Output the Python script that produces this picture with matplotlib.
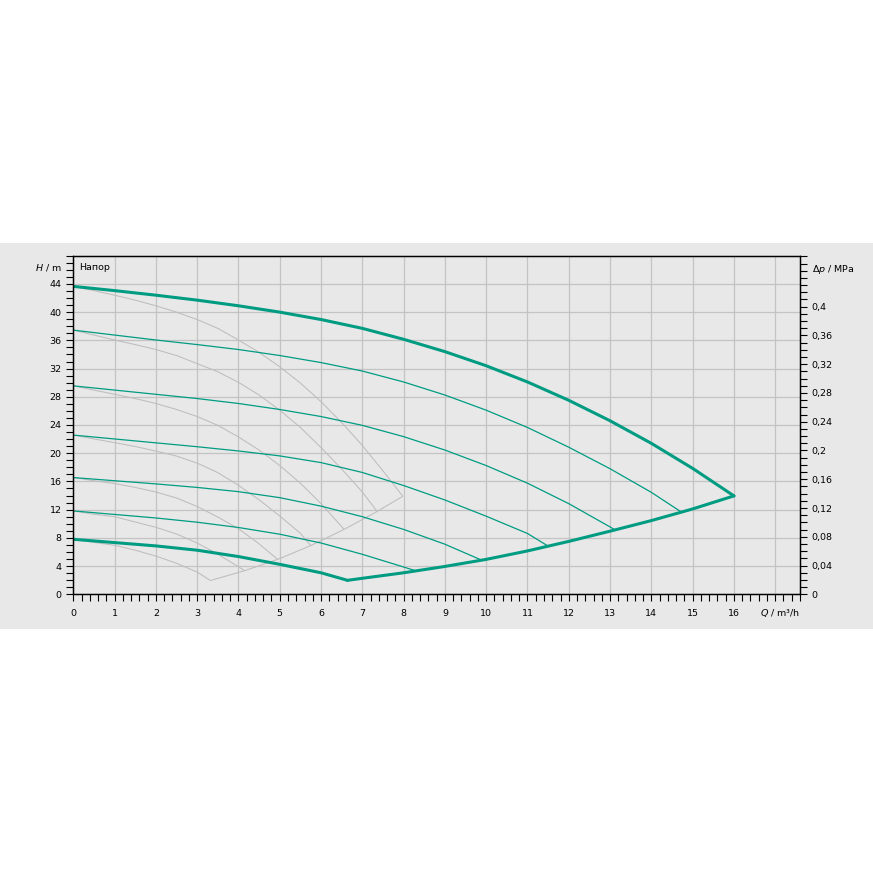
import matplotlib
matplotlib.use("Agg")
import matplotlib.pyplot as plt
from matplotlib.ticker import FixedLocator, MultipleLocator, FuncFormatter
from matplotlib.patches import Rectangle

# ---------------- data ----------------
# green curves (Q in m3/h, H in m)
max_q = [0, 1, 2, 3, 4, 5, 6, 7, 8, 9, 10, 11, 12, 13, 14, 15, 16]
max_h = [43.65, 43.05, 42.4, 41.7, 40.9, 40.0, 38.95, 37.7, 36.15, 34.4, 32.4,
         30.1, 27.5, 24.6, 21.4, 17.85, 13.95]
c2_q = [0, 1, 2, 3, 4, 5, 6, 7, 8, 9, 10, 11, 12, 13, 14, 14.73]
c2_h = [37.45, 36.75, 36.05, 35.4, 34.7, 33.85, 32.85, 31.65, 30.1, 28.25, 26.1,
        23.65, 20.85, 17.8, 14.45, 11.65]
c3_q = [0, 1, 2, 3, 4, 5, 6, 7, 8, 9, 10, 11, 12, 13, 13.12]
c3_h = [29.55, 28.95, 28.35, 27.75, 27.05, 26.2, 25.2, 23.95, 22.35, 20.45,
        18.25, 15.75, 12.85, 9.55, 9.13]
c4_q = [0, 1, 2, 3, 4, 5, 6, 7, 8, 9, 10, 11, 11.5]
c4_h = [22.57, 22.02, 21.47, 20.92, 20.32, 19.62, 18.67, 17.27, 15.42, 13.37,
        11.07, 8.62, 6.83]
c5_q = [0, 1, 2, 3, 4, 5, 6, 7, 8, 9, 9.89]
c5_h = [16.55, 16.1, 15.65, 15.15, 14.55, 13.7, 12.5, 11.0, 9.2, 7.1, 4.84]
c6_q = [0, 1, 2, 3, 4, 5, 6, 7, 8, 8.3]
c6_h = [11.82, 11.32, 10.82, 10.22, 9.47, 8.52, 7.27, 5.67, 3.87, 3.32]
min_q = [0, 1, 2, 3, 4, 5, 6, 6.64]
min_h = [7.8, 7.33, 6.86, 6.25, 5.35, 4.25, 3.05, 1.98]
bnd_q = [6.64, 7, 8, 9, 10, 11, 12, 13, 14, 15, 16]
bnd_h = [1.98, 2.27, 3.05, 3.95, 4.95, 6.15, 7.5, 8.95, 10.45, 12.1, 13.95]

# grey curves
g1_q = [0, 0.5, 1, 1.5, 2, 2.5, 3, 3.5, 4, 4.5, 5, 5.5, 6, 6.5, 7, 7.5, 7.98]
g1_h = [43.65, 43.05, 42.4, 41.7, 40.9, 40.0, 38.95, 37.7, 36.05, 34.3, 32.25,
        29.95, 27.3, 24.35, 21.1, 17.5, 13.9]
g2_q = [0, 0.5, 1, 1.5, 2, 2.5, 3, 3.5, 4, 4.5, 5, 5.5, 6, 6.5, 7, 7.36]
g2_h = [37.45, 36.75, 36.05, 35.4, 34.7, 33.85, 32.7, 31.55, 30.05, 28.25, 26.1,
        23.65, 20.8, 17.75, 14.5, 11.75]
g3_q = [0, 0.5, 1, 1.5, 2, 2.5, 3, 3.5, 4, 4.5, 5, 5.5, 6, 6.56]
g3_h = [29.55, 28.95, 28.35, 27.75, 27.05, 26.2, 25.2, 23.95, 22.3, 20.45,
        18.25, 15.75, 12.85, 9.2]
g4_q = [0, 0.5, 1, 1.5, 2, 2.5, 3, 3.5, 4, 4.5, 5, 5.5, 5.75]
g4_h = [22.57, 22.02, 21.5, 20.95, 20.3, 19.6, 18.6, 17.25, 15.45, 13.4, 11.1,
        8.65, 6.9]
g5_q = [0, 0.5, 1, 1.5, 2, 2.5, 3, 3.5, 4, 4.5, 4.95]
g5_h = [16.55, 16.1, 15.7, 15.15, 14.5, 13.65, 12.45, 10.95, 9.3, 7.15, 4.95]
g6_q = [0, 0.5, 1, 1.5, 2, 2.5, 3, 3.5, 4, 4.15]
g6_h = [11.82, 11.35, 11.0, 10.25, 9.5, 8.55, 7.27, 5.7, 3.9, 3.35]
g7_q = [0, 0.5, 1, 1.5, 2, 2.5, 3, 3.32]
g7_h = [7.8, 7.35, 6.95, 6.25, 5.42, 4.4, 3.15, 1.95]
gb_q = [3.32, 4.15, 4.95, 5.75, 6.56, 7.36, 7.98]
gb_h = [1.95, 3.35, 4.95, 6.9, 9.2, 11.75, 13.9]

x_ticks = list(range(0, 17))
h_ticks = list(range(0, 45, 4))
p_ticks = [0, 0.04, 0.08, 0.12, 0.16, 0.2, 0.24, 0.28, 0.32, 0.36, 0.4]
M_PER_MPA = 0.00981

# ---------------- styling ----------------
W = H = 873
GREEN = "#009c82"
GREY_LINE = "#bdbdbd"
BG = "#e8e8e8"
GRID = "#c3c3c3"
FS = 6.8

plt.rcParams["font.family"] = ["DejaVu Sans"]
plt.rcParams["mathtext.fontset"] = "dejavusans"

fig = plt.figure(figsize=(W / 100, H / 100), dpi=100, facecolor="white")

def fx(px):
    return px / W

def fy(py):
    return 1 - py / H

fig.patches.append(Rectangle((0, fy(628.5)), 1, fy(243) - fy(628.5),
                             transform=fig.transFigure, facecolor=BG,
                             edgecolor="none", zorder=-10))

L, R, T, B = 73.3, 800.0, 255.7, 594.3
ax = fig.add_axes([fx(L), fy(B), fx(R) - fx(L), fy(T) - fy(B)])
ax.set_facecolor(BG)
ax.set_xlim(0, 17.6)
ax.set_ylim(0, 48)

# grid
for gx in range(0, 18):
    ax.axvline(gx, color=GRID, lw=0.9, zorder=1)
for gy in range(0, 48, 4):
    ax.axhline(gy, color=GRID, lw=0.9, zorder=1)

# grey curves
for q, h in [(g1_q, g1_h), (g2_q, g2_h), (g3_q, g3_h), (g4_q, g4_h),
             (g5_q, g5_h), (g6_q, g6_h), (g7_q, g7_h), (gb_q, gb_h)]:
    ax.plot(q, h, color=GREY_LINE, lw=0.75, zorder=2, solid_capstyle="butt")

# green curves
for q, h in [(c2_q, c2_h), (c3_q, c3_h), (c4_q, c4_h), (c5_q, c5_h), (c6_q, c6_h)]:
    ax.plot(q, h, color=GREEN, lw=0.9, zorder=3)
for q, h in [(max_q, max_h), (min_q, min_h), (bnd_q, bnd_h)]:
    ax.plot(q, h, color=GREEN, lw=2.2, zorder=4, solid_joinstyle="round",
            solid_capstyle="round")

# spines
for s in ax.spines.values():
    s.set_color("black")
    s.set_linewidth(0.9)
    s.set_zorder(5)

# ticks
ax.xaxis.set_major_locator(FixedLocator(x_ticks))
ax.xaxis.set_minor_locator(MultipleLocator(0.2))
ax.yaxis.set_major_locator(FixedLocator(h_ticks))
ax.yaxis.set_minor_locator(MultipleLocator(1))
ax.tick_params(axis="both", which="both", direction="out", length=4.8,
               width=0.8, color="black", labelsize=FS, labelcolor="black")
ax.tick_params(axis="x", which="major", pad=5.5)
ax.tick_params(axis="y", which="major", pad=3.5)

ax2 = ax.twinx()
ax2.set_ylim(0, 48 * M_PER_MPA)
ax2.yaxis.set_major_locator(FixedLocator(p_ticks))
ax2.yaxis.set_minor_locator(MultipleLocator(0.01))
ax2.yaxis.set_major_formatter(FuncFormatter(lambda v, p: f"{v:g}".replace(".", ",")))
ax2.tick_params(axis="y", which="both", direction="out", length=4.8, width=0.8,
                color="black", labelsize=FS, labelcolor="black", pad=3.5)
for s in ax2.spines.values():
    s.set_color("black")
    s.set_linewidth(0.9)

# labels
fig.text(fx(62), fy(267.7), r"$H$ / m", ha="right", va="center", fontsize=FS)
fig.text(fx(79), fy(267.7), "Напор", ha="left", va="center", fontsize=FS)
fig.text(fx(811.5), fy(269), r"$\mathit{\Delta p}$ / MPa", ha="left", va="center",
         fontsize=FS)
fig.text(fx(760), fy(612.8), r"$Q$ / m³/h", ha="left", va="center", fontsize=FS)

fig.savefig("out.png", dpi=100, facecolor="white")
